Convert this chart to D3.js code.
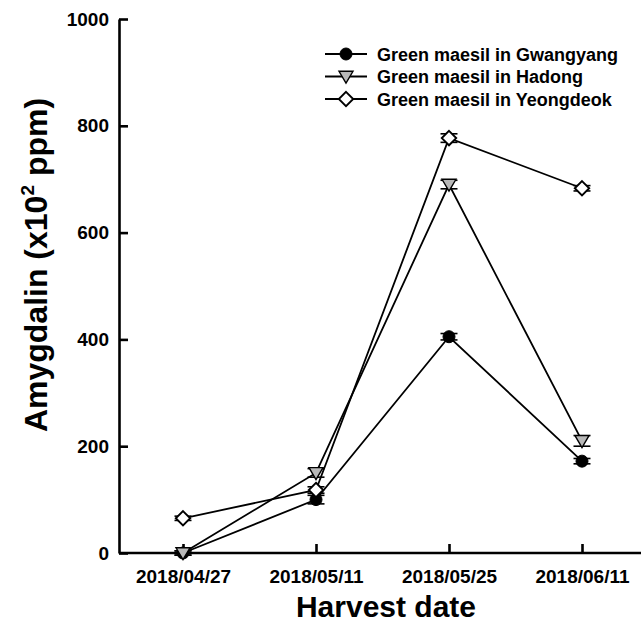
<!DOCTYPE html>
<html>
<head>
<meta charset="utf-8">
<script src="https://cdn.jsdelivr.net/npm/d3@7/dist/d3.min.js"></script>
<style>
  html, body { margin: 0; padding: 0; background: #fff; }
  svg { display: block; font-family: "Liberation Sans", Arial, sans-serif; }
</style>
</head>
<body>
<svg id="chart" width="641" height="622"></svg>
<script>
// Harvest dates (x categories)
const dates = ["2018/04/27", "2018/05/11", "2018/05/25", "2018/06/11"];

// Amygdalin content (x10^2 ppm) per production region
const gwangyang = [0, 100, 405, 172];
const hadong    = [0, 150, 690, 210];
const yeongdeok = [65, 118, 777, 683];

// Standard deviations
const gwangyangErr = [4, 8, 6, 5];
const hadongErr    = [4, 8, 8, 10];
const yeongdeokErr = [4, 6, 8, 5];

const seriesNames = ["Green maesil in Gwangyang", "Green maesil in Hadong", "Green maesil in Yeongdeok"];
const yTicks = [0, 200, 400, 600, 800, 1000];

const series = [
  { name: seriesNames[0], values: gwangyang, err: gwangyangErr, shape: "circle" },
  { name: seriesNames[1], values: hadong, err: hadongErr, shape: "triangle" },
  { name: seriesNames[2], values: yeongdeok, err: yeongdeokErr, shape: "diamond" }
];

const svg = d3.select("#chart");
const mLeft = 119, mTop = 19, mBottom = 553, mRight = 641;

const x = d3.scalePoint().domain(dates).range([183, 582]);
const y = d3.scaleLinear().domain([0, 1000]).range([mBottom, mTop]);

// Axes (inward ticks, no domain end caps)
const yAxis = svg.append("g").attr("transform", `translate(${mLeft},0)`)
  .call(d3.axisLeft(y).tickValues(yTicks).tickFormat(d3.format("d"))
    .tickSizeInner(-9).tickSizeOuter(0).tickPadding(10));
const xAxis = svg.append("g").attr("transform", `translate(0,${mBottom})`)
  .call(d3.axisBottom(x).tickSizeInner(-9).tickSizeOuter(0).tickPadding(17));
xAxis.select(".domain").attr("d", `M${mLeft},0H${mRight}`);

[yAxis, xAxis].forEach(g => {
  g.select(".domain").attr("stroke", "#000").attr("stroke-width", 2.6);
  g.selectAll(".tick line").attr("stroke", "#000").attr("stroke-width", 2.6);
  g.selectAll(".tick text").attr("fill", "#000").attr("font-size", 19).attr("font-weight", "bold")
    .attr("font-family", "'Liberation Sans', Arial, sans-serif");
});

// Axis titles
const yTitle = svg.append("text")
  .attr("transform", `translate(47,265) rotate(-90)`)
  .attr("text-anchor", "middle")
  .attr("font-size", 32).attr("font-weight", "bold");
yTitle.append("tspan").text("Amygdalin (x10");
yTitle.append("tspan").attr("font-size", 19).attr("dy", -13).text("2");
yTitle.append("tspan").attr("dy", 13).text(" ppm)");

svg.append("text")
  .attr("x", 386).attr("y", 617)
  .attr("text-anchor", "middle")
  .attr("font-size", 30).attr("font-weight", "bold")
  .text("Harvest date");

// Marker drawing helper
function drawMarker(g, shape, cx, cy) {
  if (shape === "circle") {
    g.append("circle").attr("cx", cx).attr("cy", cy).attr("r", 6)
      .attr("fill", "#000").attr("stroke", "#000").attr("stroke-width", 1);
  } else if (shape === "triangle") {
    const s = 7;
    g.append("path")
      .attr("d", `M${cx - s},${cy - s * 0.75}L${cx + s},${cy - s * 0.75}L${cx},${cy + s * 0.95}Z`)
      .attr("fill", "#b8b8b8").attr("stroke", "#000").attr("stroke-width", 1.4);
  } else {
    const s = 7.2;
    g.append("path")
      .attr("d", `M${cx},${cy - s}L${cx + s},${cy}L${cx},${cy + s}L${cx - s},${cy}Z`)
      .attr("fill", "#fff").attr("stroke", "#000").attr("stroke-width", 1.9);
  }
}

const line = d3.line().x((d, i) => x(dates[i])).y(d => y(d));
const plot = svg.append("g");

series.forEach(s => {
  plot.append("path").attr("d", line(s.values))
    .attr("fill", "none").attr("stroke", "#000").attr("stroke-width", 1.8);
});

series.forEach(s => {
  const g = plot.append("g");
  s.values.forEach((v, i) => {
    const cx = x(dates[i]);
    const e = s.err[i];
    // error bar with caps
    g.append("line").attr("x1", cx).attr("x2", cx).attr("y1", y(v - e)).attr("y2", y(v + e))
      .attr("stroke", "#000").attr("stroke-width", 1.5);
    [v - e, v + e].forEach(ev => {
      g.append("line").attr("x1", cx - 8.5).attr("x2", cx + 8.5).attr("y1", y(ev)).attr("y2", y(ev))
        .attr("stroke", "#000").attr("stroke-width", 1.6);
    });
    drawMarker(g, s.shape, cx, y(v));
  });
});

// Legend
const legend = svg.append("g");
series.forEach((s, i) => {
  const ly = 54 + i * 22.5;
  legend.append("line").attr("x1", 325).attr("x2", 367).attr("y1", ly).attr("y2", ly)
    .attr("stroke", "#000").attr("stroke-width", 1.8);
  drawMarker(legend, s.shape, 346, ly);
  legend.append("text").attr("x", 377).attr("y", ly + 6.5)
    .attr("font-size", 18).attr("font-weight", "bold").text(s.name);
});
</script>
</body>
</html>
